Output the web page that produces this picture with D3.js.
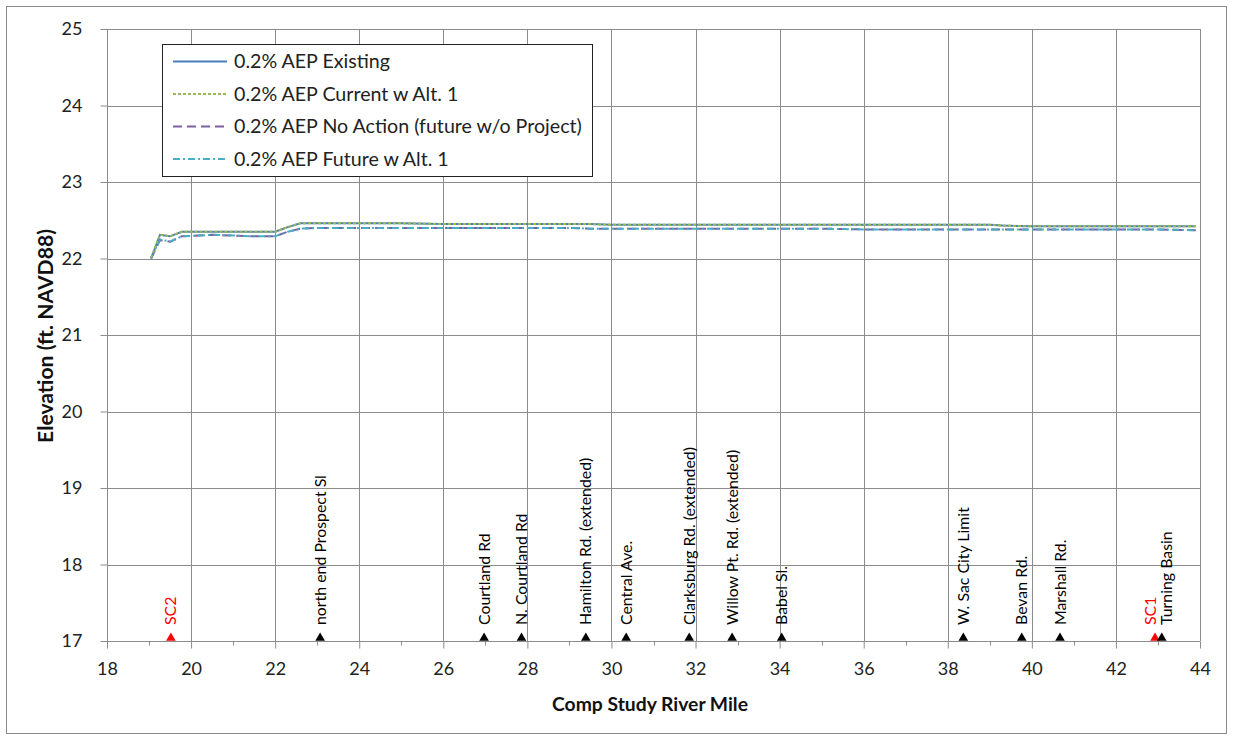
<!DOCTYPE html>
<html><head><meta charset="utf-8">
<script src="https://cdn.jsdelivr.net/npm/d3@7"></script>
<style>
html,body{margin:0;padding:0;background:#fff;}
svg text{font-family:Lato,"Open Sans",sans-serif;}
</style></head>
<body><svg id="c" width="1233" height="740"></svg>
<script>
// ---------- data ----------
const riverMile = [19.05,19.26,19.5,19.78,20.5,21.0,21.5,22.0,22.3,22.6,23,24,25,26,27,28,29,29.5,30,31,32,33,34,35,36,37,38,39,39.3,40,41,42,43,43.9];
const existing  = [22.00,22.31,22.29,22.35,22.35,22.35,22.35,22.35,22.41,22.46,22.46,22.46,22.46,22.45,22.45,22.45,22.45,22.45,22.44,22.44,22.44,22.44,22.44,22.44,22.44,22.44,22.44,22.44,22.43,22.42,22.42,22.42,22.42,22.42];
const currentAlt1 = [22.01,22.31,22.29,22.35,22.35,22.35,22.35,22.35,22.41,22.46,22.46,22.46,22.46,22.45,22.45,22.45,22.45,22.45,22.44,22.44,22.44,22.44,22.44,22.44,22.44,22.44,22.44,22.44,22.43,22.42,22.42,22.42,22.42,22.42];
const noAction  = [22.00,22.24,22.22,22.29,22.31,22.30,22.29,22.29,22.35,22.39,22.40,22.40,22.40,22.40,22.40,22.40,22.40,22.39,22.39,22.39,22.39,22.39,22.39,22.39,22.38,22.38,22.38,22.38,22.38,22.38,22.38,22.38,22.38,22.37];
const futureAlt1 = [22.01,22.25,22.22,22.29,22.31,22.30,22.29,22.29,22.35,22.39,22.40,22.40,22.40,22.40,22.40,22.40,22.40,22.39,22.39,22.39,22.39,22.39,22.39,22.39,22.38,22.38,22.38,22.38,22.38,22.38,22.38,22.38,22.38,22.37];
const seriesNames = ["0.2% AEP Existing","0.2% AEP Current w Alt. 1","0.2% AEP No Action (future w/o Project)","0.2% AEP Future w Alt. 1"];

const landmarkNames = ["SC2","north end Prospect Sl","Courtland Rd","N. Courtland Rd","Hamilton Rd. (extended)","Central Ave.","Clarksburg Rd. (extended)","Willow Pt. Rd. (extended)","Babel Sl.","W. Sac City Limit","Bevan Rd.","Marshall Rd.","SC1","Turning Basin"];
const landmarkMiles = [19.52,23.07,26.97,27.86,29.39,30.35,31.85,32.87,34.05,38.37,39.76,40.67,42.93,43.09];
const landmarkIsGage = [true,false,false,false,false,false,false,false,false,false,false,false,true,false];

const xTicks = [18,20,22,24,26,28,30,32,34,36,38,40,42,44];
const xMinorTicks = [19,21,23,25,27,29,31,33,35,37,39,41,43];
const yTicks = [17,18,19,20,21,22,23,24,25];
const xTitle = "Comp Study River Mile";
const yTitle = "Elevation (ft. NAVD88)";

// ---------- layout ----------
const svg = d3.select("#c");
const L = 107, R = 1200, T = 29, B = 641;
const x = d3.scaleLinear().domain([18,44]).range([L,R]);
const y = d3.scaleLinear().domain([17,25]).range([B,T]);
const grid = "#8c8c8c";

function fit(sel, target){
  const n = sel.node(); const fs = parseFloat(sel.attr("font-size"));
  const w = n.getComputedTextLength();
  if (w > 0) sel.attr("font-size", fs * target / w);
  return sel;
}

svg.append("rect").attr("x",6.5).attr("y",6.5).attr("width",1220).attr("height",727)
  .attr("fill","#fff").attr("stroke","#8a8a8a").attr("stroke-width",1);

// gridlines
svg.append("g").selectAll("line").data(yTicks.slice(1)).join("line")
  .attr("x1",L).attr("x2",R).attr("y1",d=>Math.round(y(d))+0.5).attr("y2",d=>Math.round(y(d))+0.5)
  .attr("stroke",grid).attr("stroke-width",1);
svg.append("g").selectAll("line").data(xTicks.slice(1)).join("line")
  .attr("y1",T).attr("y2",B).attr("x1",d=>Math.round(x(d))+0.5).attr("x2",d=>Math.round(x(d))+0.5)
  .attr("stroke",grid).attr("stroke-width",1);

// axes
const xAxis = d3.axisBottom(x).tickValues(xTicks).tickSize(7).tickPadding(14).tickFormat(d3.format("d"));
const gx = svg.append("g").attr("transform",`translate(0,${B+0.5})`).call(xAxis);
gx.selectAll(".tick line").attr("stroke",grid);
gx.select(".domain").attr("stroke",grid).attr("d",`M${L},0H${R}`);
gx.selectAll("text").attr("font-size",18).attr("fill","#222").attr("font-family","Lato, sans-serif");
const gxm = svg.append("g").attr("transform",`translate(0,${B+0.5})`);
gxm.selectAll("line").data(xMinorTicks).join("line")
  .attr("x1",d=>Math.round(x(d))+0.5).attr("x2",d=>Math.round(x(d))+0.5).attr("y1",0).attr("y2",4).attr("stroke",grid);

const yAxis = d3.axisLeft(y).tickValues(yTicks).tickSize(7).tickPadding(18).tickFormat(d3.format("d"));
const gy = svg.append("g").attr("transform",`translate(${L+0.5},0)`).call(yAxis);
gy.selectAll(".tick line").attr("stroke",grid);
gy.select(".domain").attr("stroke",grid).attr("d",`M0,${T}V${B}`);
gy.selectAll("text").attr("font-size",18).attr("fill","#222").attr("font-family","Lato, sans-serif");

// axis titles
fit(svg.append("text").attr("x",650).attr("y",711).attr("text-anchor","middle")
  .attr("font-size",16).attr("font-weight","bold").attr("fill","#111").text(xTitle), 196);
fit(svg.append("text").attr("transform",`translate(53,336) rotate(-90)`).attr("text-anchor","middle")
  .attr("font-size",16).attr("font-weight","bold").attr("fill","#111").text(yTitle), 214);

// series
const seriesData = [existing,currentAlt1,noAction,futureAlt1];
const colors = ["#4a7ebb","#98b954","#7d60a0","#4aacc5"];
const dashes = [null,"3,2","9,5","7,3,2,3"];
const line = d3.line().x((d,i)=>x(riverMile[i])).y(d=>y(d));
const order = [2,3,0,1];
order.forEach(k=>{
  svg.append("path").datum(seriesData[k]).attr("d",line).attr("fill","none")
    .attr("stroke",colors[k]).attr("stroke-width",2).attr("stroke-dasharray",dashes[k]);
});

// landmarks
const tri = d3.symbol().type(d3.symbolTriangle).size(40);
const lm = landmarkNames.map((n,i)=>({name:n, mile:landmarkMiles[i], gage:landmarkIsGage[i], px:x(landmarkMiles[i])}));
const lp = lm.map(d=>d.px);
for(let i=1;i<lp.length;i++){
  if(lp[i]-lp[i-1] < 15){ const mid=(lp[i]+lp[i-1])/2; lp[i-1]=mid-8; lp[i]=mid+8; }
}
svg.append("g").selectAll("path").data(lm).join("path")
  .attr("d",tri).attr("transform",d=>`translate(${d.px},${B-3})`)
  .attr("fill",d=>d.gage?"#ff0000":"#000");
const labels = svg.append("g").selectAll("text").data(lm).join("text")
  .attr("transform",(d,i)=>`translate(${lp[i]},${B-16}) rotate(-90)`)
  .attr("dy","0.35em").attr("font-size",14)
  .attr("fill",d=>d.gage?"#ff0000":"#000").text(d=>d.name);
const refLab = labels.filter((d,i)=>i===1);
const w0 = refLab.node().getComputedTextLength();
if (w0>0) labels.attr("font-size", 14*150/w0);

// legend
const lg = svg.append("g");
lg.append("rect").attr("x",162.5).attr("y",44.5).attr("width",430).attr("height",132)
  .attr("fill","#fff").attr("stroke","#222").attr("stroke-width",1);
const legTexts = [];
seriesNames.forEach((n,i)=>{
  const yy = 61.5 + i*32.5;
  lg.append("line").attr("x1",173).attr("x2",227).attr("y1",yy).attr("y2",yy)
    .attr("stroke",colors[i]).attr("stroke-width",2).attr("stroke-dasharray",dashes[i]);
  legTexts.push(lg.append("text").attr("x",234).attr("y",yy).attr("dy","0.35em")
    .attr("font-size",17).attr("fill","#222").text(n));
});
const lw = legTexts[2].node().getComputedTextLength();
if (lw>0) legTexts.forEach(t=>t.attr("font-size", 17*348/lw));
</script></body></html>
